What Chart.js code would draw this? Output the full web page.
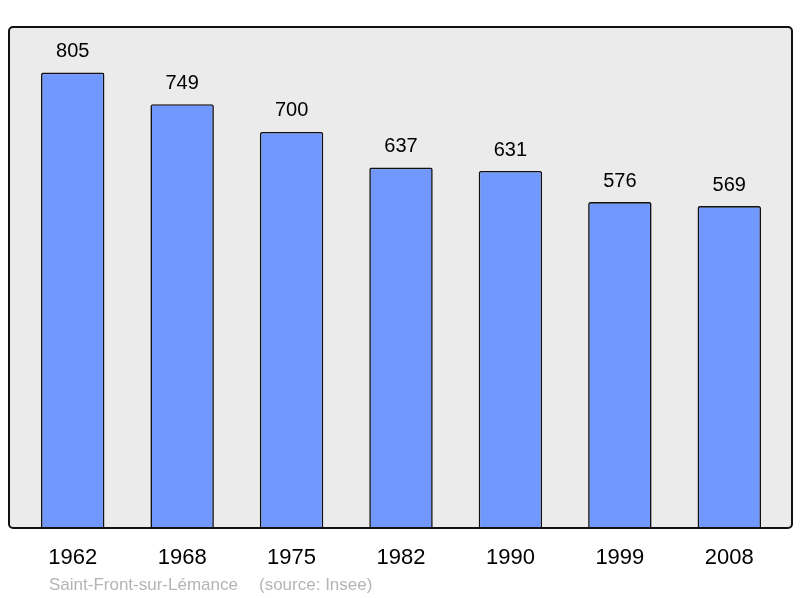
<!DOCTYPE html>
<html>
<head>
<meta charset="utf-8">
<script src="https://cdn.jsdelivr.net/npm/chart.js@4/dist/chart.umd.min.js"></script>
<style>
  html, body { margin: 0; padding: 0; background: #fff; }
  #wrap { width: 800px; height: 598px; }
</style>
</head>
<body>
<div id="wrap"><canvas id="pop"></canvas></div>
<script>
// population figures (Insee)
const years = ['1962', '1968', '1975', '1982', '1990', '1999', '2008'];
const population = [805, 749, 700, 637, 631, 576, 569];
const townName = 'Saint-Front-sur-Lémance';
const sourceText = '(source: Insee)';

const FONT = '"Liberation Sans", Arial, sans-serif';

// grey framed box behind the bars
const frameBox = {
  id: 'frameBox',
  beforeDatasetsDraw(chart) {
    const { ctx, chartArea: a } = chart;
    const x = a.left - 9, y = a.top, w = a.right - a.left + 17, h = a.bottom - a.top;
    ctx.save();
    ctx.beginPath();
    ctx.roundRect(x, y, w, h, 4);
    ctx.fillStyle = '#ebebeb';
    ctx.fill();
    ctx.restore();
  },
  afterDatasetsDraw(chart) {
    const { ctx, chartArea: a } = chart;
    const x = a.left - 9, y = a.top, w = a.right - a.left + 17, h = a.bottom - a.top;
    ctx.save();
    ctx.beginPath();
    ctx.roundRect(x, y, w, h, 4);
    ctx.lineWidth = 2;
    ctx.strokeStyle = '#111';
    ctx.stroke();

    // values above bars
    const meta = chart.getDatasetMeta(0);
    ctx.fillStyle = '#000';
    ctx.font = '20px ' + FONT;
    ctx.textAlign = 'center';
    ctx.textBaseline = 'middle';
    meta.data.forEach((bar, i) => {
      ctx.fillText(String(population[i]), bar.x, bar.y - 21);
    });

    // caption
    ctx.fillStyle = '#b4b4b4';
    ctx.font = '17px ' + FONT;
    ctx.textAlign = 'left';
    ctx.fillText(townName, 49, 585);
    ctx.fillText(sourceText, 259, 585);
    ctx.restore();
  }
};

new Chart(document.getElementById('pop'), {
  type: 'bar',
  data: {
    labels: years,
    datasets: [{
      data: population,
      backgroundColor: '#7098ff',
      borderColor: '#111',
      borderWidth: 1.6,
      borderSkipped: 'bottom',
      borderRadius: { topLeft: 2, topRight: 2 },
      barPercentage: 0.58,
      categoryPercentage: 1
    }]
  },
  options: {
    responsive: true,
    maintainAspectRatio: false,
    animation: false,
    layout: { padding: { left: 18, right: 16, top: 27, bottom: 0 } },
    plugins: {
      legend: { display: false },
      tooltip: { enabled: false }
    },
    scales: {
      x: {
        grid: { display: false, drawTicks: false },
        border: { display: false },
        ticks: { color: '#000', font: { family: FONT, size: 22 }, padding: 17 },
        afterFit(s) { s.height = 70; }
      },
      y: {
        display: false,
        min: 0,
        max: 885.5
      }
    }
  },
  plugins: [frameBox]
});
</script>
</body>
</html>
